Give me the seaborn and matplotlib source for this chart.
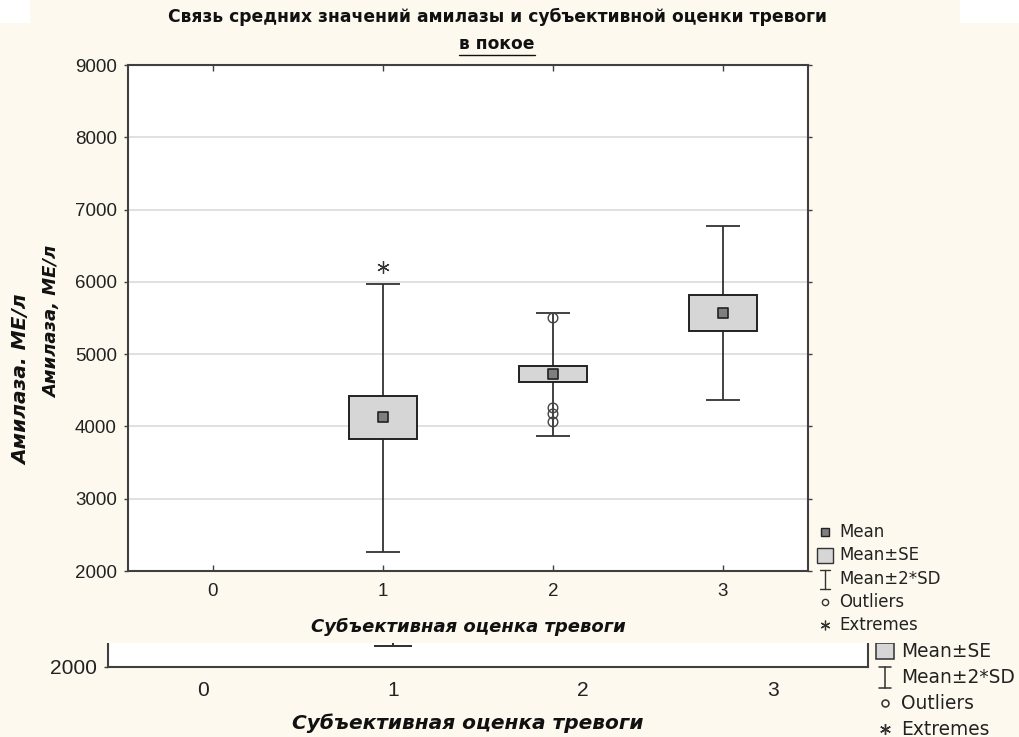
import numpy as np
import pandas as pd
import matplotlib
matplotlib.use("Agg")
import matplotlib.pyplot as plt
from matplotlib.patches import Rectangle
from matplotlib.lines import Line2D
import seaborn as sns

# ---------------- data ----------------
categories = [0, 1, 2, 3]
tick_labels = ["0", "1", "2", "3"]
means = [np.nan, 4131, 4726, 5570]
se_low = [np.nan, 3827, 4615, 5321]
se_high = [np.nan, 4422, 4837, 5819]
sd2_low = [np.nan, 2264, 3869, 4367]
sd2_high = [np.nan, 5971, 5570, 6773]
outlier_cat = [2, 2, 2, 2]
outlier_val = [5500, 4256, 4173, 4062]
extreme_cat = [1]
extreme_val = [6206]
yticks = [2000, 3000, 4000, 5000, 6000, 7000, 8000, 9000]

title = "Связь средних значений амилазы и субъективной оценки тревоги"
subtitle = "в покое"
xlabel = "Субъективная оценка тревоги"
ylabel1 = "Амилаза, МЕ/л"
ylabel2 = "Амилаза. МЕ/л"
legend_labels = ["Mean", "Mean±SE", "Mean±2*SD", "Outliers", "Extremes"]

sns.set_theme(style="white")
NARROW = ["Liberation Sans Narrow", "DejaVu Sans"]
REG = ["Liberation Sans", "DejaVu Sans"]
LEG = ["DejaVu Sans"]
plt.rcParams["font.family"] = REG

W, H = 1019, 737
CREAM = "#fdf9ee"
DARK = "#333333"
BOXFILL = "#d6d6d6"
MEANFILL = "#7f7f7f"

fig = plt.figure(figsize=(W / 100, H / 100), dpi=100, facecolor="white")


def rect(x0, y0, x1, y1):
    """pixel box (top-left origin) -> figure fraction [l, b, w, h]"""
    return [x0 / W, 1 - y1 / H, (x1 - x0) / W, (y1 - y0) / H]


def P(x, y):
    return x / W, 1 - y / H


def draw_boxes(ax, s):
    df = pd.DataFrame({"cat": categories, "mean": means, "lo": se_low, "hi": se_high,
                       "wlo": sd2_low, "whi": sd2_high}).dropna()
    ax.errorbar(df["cat"], df["mean"],
                yerr=[df["mean"] - df["wlo"], df["whi"] - df["mean"]],
                fmt="none", ecolor=DARK, elinewidth=1.3 * s, capsize=12.2 * s,
                capthick=1.3 * s, zorder=3)
    ax.bar(df["cat"], df["hi"] - df["lo"], bottom=df["lo"], width=0.405,
           color=BOXFILL, edgecolor="#222222", linewidth=1.4 * s, zorder=4)
    sns.scatterplot(data=df, x="cat", y="mean", marker="s", s=52 * s * s,
                    color=MEANFILL, edgecolor="#222222", linewidth=1.2 * s,
                    ax=ax, zorder=5, legend=False)
    od = pd.DataFrame({"cat": outlier_cat, "val": outlier_val})
    sns.scatterplot(data=od, x="cat", y="val", marker="o", s=48 * s * s,
                    facecolor="none", edgecolor="#444444", linewidth=1.0 * s,
                    ax=ax, zorder=6, legend=False)
    ed = pd.DataFrame({"cat": extreme_cat, "val": extreme_val})
    ax.plot(ed["cat"], ed["val"], linestyle="none", marker=(6, 2, 0),
            markersize=9 * s, markeredgecolor="#333333", markeredgewidth=0.9 * s,
            zorder=6)
    ax.set_xlim(-0.5, 3.5)
    ax.set_xticks(categories)
    ax.set_xlabel("")
    ax.set_ylabel("")


def draw_legend(parent, x, y, s, items):
    # x: icon centre, y: first row centre, s: scale
    step = 23.3 * s
    tx = x + 14 * s
    for i, lab in enumerate(legend_labels):
        yy = y + i * step
        if lab not in items:
            continue
        if lab == "Mean":
            parent.add_line(Line2D([P(x, yy)[0]], [P(x, yy)[1]], marker="s",
                                   markersize=6 * s, markerfacecolor=MEANFILL,
                                   markeredgecolor="#222222", markeredgewidth=1 * s,
                                   transform=fig.transFigure, clip_on=False))
        elif lab == "Mean±SE":
            l, b, w, h = rect(x - 8 * s, yy - 7.5 * s, x + 8 * s, yy + 7.5 * s)
            parent.add_patch(Rectangle((l, b), w, h, facecolor=BOXFILL,
                                       edgecolor="#333333", linewidth=1 * s,
                                       transform=fig.transFigure, clip_on=False))
        elif lab == "Mean±2*SD":
            for xs, ys in [([x, x], [yy - 9 * s, yy + 10 * s]),
                           ([x - 5 * s, x + 5 * s], [yy - 9 * s, yy - 9 * s]),
                           ([x - 5 * s, x + 5 * s], [yy + 10 * s, yy + 10 * s])]:
                parent.add_line(Line2D([P(a, 0)[0] for a in xs], [P(0, b)[1] for b in ys],
                                       color="#333333", linewidth=1 * s,
                                       transform=fig.transFigure, clip_on=False))
        elif lab == "Outliers":
            parent.add_line(Line2D([P(x, yy)[0]], [P(x, yy)[1]], marker="o",
                                   markersize=4.5 * s, markerfacecolor="none",
                                   markeredgecolor="#333333", markeredgewidth=1 * s,
                                   transform=fig.transFigure, clip_on=False))
        elif lab == "Extremes":
            parent.add_line(Line2D([P(x, yy)[0]], [P(x, yy)[1]], marker=(6, 2, 0),
                                   markersize=7 * s, markeredgecolor="#333333",
                                   markeredgewidth=0.9 * s,
                                   transform=fig.transFigure, clip_on=False))
        parent.text(*P(tx, yy), lab, transform=fig.transFigure, ha="left",
                    va="center", fontsize=12 * s, color="#222222",
                    family=LEG, clip_on=False)


# ---------------- second (back) copy ----------------
s2 = 1.118
bg2 = fig.add_axes(rect(0, 23, W, H), zorder=0)
bg2.set_facecolor(CREAM)
bg2.set_xticks([]); bg2.set_yticks([])
for sp in bg2.spines.values():
    sp.set_visible(False)

ax2 = fig.add_axes(rect(108, 643, 868, 667), zorder=1)
ax2.set_facecolor("white")
draw_boxes(ax2, s2)
ax2.set_ylim(2000, 2000 + 24 / (72.3 * s2) * 1000)
ax2.set_yticks([2000])
ax2.set_xticklabels(tick_labels)
ax2.spines["top"].set_visible(False)
for k in ["left", "bottom", "right"]:
    ax2.spines[k].set_color("#404040")
    ax2.spines[k].set_linewidth(1.5)
ax2.tick_params(axis="x", direction="in", length=4, width=1, color="#404040",
                pad=10, labelsize=13.5 * s2, labelcolor="#222222")
ax2.tick_params(axis="y", direction="out", length=3, width=1, color="#404040",
                pad=5, labelsize=13.5 * s2, labelcolor="#222222", left=True)
bg2.text(*P(468, 723), xlabel, transform=fig.transFigure, ha="center", va="center",
         fontsize=13 * s2, fontweight="bold", fontstyle="italic", family=NARROW,
         color="#111111", clip_on=False)
bg2.text(*P(22, 380), ylabel2, transform=fig.transFigure, ha="center", va="center",
         rotation=90, fontsize=13 * s2, fontweight="bold", fontstyle="italic",
         family=NARROW, color="#111111", clip_on=False)
draw_legend(bg2, 885, 625, s2, ["Mean±SE", "Mean±2*SD", "Outliers", "Extremes"])

# ---------------- first (front) copy ----------------
bg1 = fig.add_axes(rect(30, 0, 960, 643), zorder=2)
bg1.set_facecolor(CREAM)
bg1.set_xticks([]); bg1.set_yticks([])
for sp in bg1.spines.values():
    sp.set_visible(False)

ax1 = fig.add_axes(rect(128, 65, 808, 571), zorder=3)
ax1.set_facecolor("white")
draw_boxes(ax1, 1.0)
ax1.set_ylim(2000, 9000)
ax1.set_yticks(yticks)
ax1.set_xticklabels(tick_labels)
ax1.yaxis.grid(True, color="#dcdcdc", linewidth=1.2, zorder=0)
ax1.xaxis.grid(False)
ax1.set_axisbelow(True)
for sp in ax1.spines.values():
    sp.set_color("#404040")
    sp.set_linewidth(1.5)
ax1.tick_params(axis="x", direction="in", length=4, width=1, color="#404040",
                pad=9, labelsize=13.5, labelcolor="#222222", top=True, bottom=True)
ax1.tick_params(axis="y", direction="out", length=3, width=1, color="#404040",
                pad=5, labelsize=13.5, labelcolor="#222222", left=True, right=True)

fig.text(*P(497, 17), title, ha="center", va="center", fontsize=12.3,
         fontweight="bold", family=NARROW, color="#111111", zorder=10)
sub = fig.text(*P(497, 44), subtitle, ha="center", va="center", fontsize=12.3,
               fontweight="bold", family=NARROW, color="#111111", zorder=10)
fig.text(*P(468, 627), xlabel, ha="center", va="center", fontsize=13,
         fontweight="bold", fontstyle="italic", family=NARROW, color="#111111",
         zorder=10)
fig.text(*P(52, 322), ylabel1, ha="center", va="center", rotation=90, fontsize=13,
         fontweight="bold", fontstyle="italic", family=NARROW, color="#111111",
         zorder=10)
draw_legend(bg1, 825, 532, 1.0, legend_labels)

# underline for subtitle
fig.canvas.draw()
bb = sub.get_window_extent(renderer=fig.canvas.get_renderer())
uy = bb.y0 / H - 1.5 / H
fig.add_artist(Line2D([bb.x0 / W, bb.x1 / W], [uy, uy], color="#111111",
                      linewidth=1.0, zorder=10))

fig.savefig("out.png", dpi=100, facecolor=fig.get_facecolor())
